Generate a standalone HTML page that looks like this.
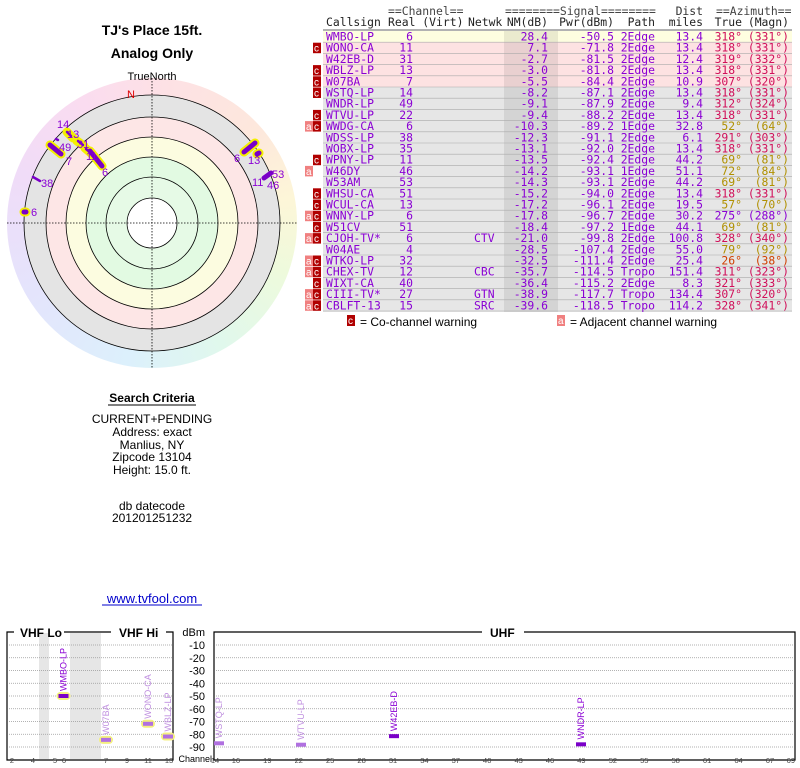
<!DOCTYPE html>
<html><head><meta charset="utf-8"><style>
html,body{margin:0;padding:0;background:#fff;width:800px;height:768px;overflow:hidden}
svg{display:block}
.m{font-family:"DejaVu Sans Mono","Liberation Mono",monospace;font-size:11.4px;fill:#8a00d4}
.s{font-family:"Liberation Sans",sans-serif}
</style></head><body>
<div style="position:absolute;left:7px;top:78px;width:290px;height:290px;border-radius:50%;background:conic-gradient(#fde0e6 0deg,#fde8dc 50deg,#fdf6d8 80deg,#eefadc 110deg,#e0f8ec 150deg,#dcf0fc 190deg,#e4e4fc 240deg,#f0dcf8 290deg,#fadcf0 330deg,#fde0e6 360deg)"></div>
<svg width="800" height="768" style="position:absolute;left:0;top:0">
<text x="152" y="35" class="s" font-size="14" font-weight="bold" text-anchor="middle">TJ's Place 15ft.</text>
<text x="152" y="58" class="s" font-size="14" font-weight="bold" text-anchor="middle">Analog Only</text>
<text x="152" y="80" class="s" font-size="11" text-anchor="middle">TrueNorth</text>
<g fill="none" stroke="#000" stroke-width="0.8">
<circle cx="152" cy="223" r="128" fill="#e4e4e4"/>
<circle cx="152" cy="223" r="106" fill="#fde6e6"/>
<circle cx="152" cy="223" r="86" fill="#fcfce0"/>
<circle cx="152" cy="223" r="66" fill="#e2fae2"/>
<circle cx="152" cy="223" r="46" fill="#e6fae6"/>
<circle cx="152" cy="223" r="25" fill="#fff"/>
</g>
<g stroke="#000" stroke-width="0.8" stroke-dasharray="1.5,1.5">
<line x1="7" y1="223" x2="297" y2="223"/><line x1="152" y1="78" x2="152" y2="368"/>
</g>
<text x="127" y="98" fill="#d00" class="s" font-size="11">N</text>
<g stroke-linecap="round">
<g stroke="#f4f000" stroke-width="9">
<line x1="50" y1="145" x2="61" y2="154"/><line x1="90" y1="151" x2="102" y2="166"/>
<line x1="244" y1="152" x2="255" y2="143"/><line x1="257" y1="154" x2="259" y2="153"/>
<line x1="24" y1="212" x2="26" y2="212"/><line x1="67" y1="132" x2="73" y2="138"/>
<line x1="77" y1="141" x2="84" y2="146"/><line x1="85" y1="148" x2="92" y2="154"/>
</g>
<g stroke="#7a00c8" stroke-width="5">
<line x1="50" y1="145" x2="61" y2="154"/><line x1="90" y1="151" x2="102" y2="166"/>
<line x1="244" y1="152" x2="255" y2="143"/><line x1="257" y1="154" x2="259" y2="153"/>
<line x1="24" y1="212" x2="26" y2="212"/><line x1="264" y1="178" x2="271" y2="173"/>
</g>
<g stroke="#7a00c8" stroke-width="2.5">
<line x1="33" y1="177" x2="40" y2="181"/><line x1="56" y1="139" x2="58" y2="140"/>
<line x1="67" y1="132" x2="71" y2="136"/><line x1="78" y1="141" x2="83" y2="145"/><line x1="86" y1="149" x2="91" y2="153"/>
</g>
</g>
<g class="s" font-size="11" fill="#8a00d4">
<text x="57" y="128">14</text><text x="67" y="138">13</text><text x="59" y="151">49</text><text x="77" y="148">31</text>
<text x="86" y="160">11</text><text x="66" y="165">7</text><text x="102" y="176">6</text><text x="41" y="187">38</text>
<text x="31" y="216">6</text><text x="234" y="162">6</text><text x="248" y="164">13</text>
<text x="272" y="178">53</text><text x="252" y="186">11</text><text x="267" y="189">46</text>
</g>
<g class="s" font-size="12" text-anchor="middle" fill="#000">
<text x="152" y="402" font-weight="bold">Search Criteria</text>
<line x1="108" y1="405" x2="196" y2="405" stroke="#000"/>
<text x="152" y="423">CURRENT+PENDING</text><text x="152" y="436">Address: exact</text>
<text x="152" y="449">Manlius, NY</text><text x="152" y="461">Zipcode 13104</text>
<text x="152" y="474">Height: 15.0 ft.</text>
<text x="152" y="510">db datecode</text><text x="152" y="522">201201251232</text>
<text x="152" y="603" fill="#00c" font-size="13">www.tvfool.com</text>
<line x1="102" y1="605" x2="202" y2="605" stroke="#00c"/>
</g>
<rect x="323" y="31" width="469" height="11" fill="#fefee0"/>
<rect x="323" y="42.2" width="469" height="44.8" fill="#fde2e2"/>
<rect x="323" y="87" width="469" height="225" fill="#e6e6e6"/>
<rect x="504" y="31" width="54" height="281" fill="#000" opacity="0.08"/>
<g stroke="#aaa" stroke-width="0.6" id="rl"></g>
<line x1="323" y1="30" x2="792" y2="30" stroke="#666"/>
<g class="m">
<text x="388" y="15" style="fill:#444">==Channel==</text>
<text x="505" y="15" style="fill:#444">========Signal========</text>
<text x="703" y="15" text-anchor="end" style="fill:#333">Dist</text>
<text x="716" y="15" style="fill:#444">==Azimuth==</text>
<text x="326" y="26" style="fill:#222">Callsign</text><text x="388" y="26" style="fill:#222">Real (Virt)</text>
<text x="468" y="26" style="fill:#222">Netwk</text><text x="548" y="26" text-anchor="end" style="fill:#222">NM(dB)</text>
<text x="614" y="26" text-anchor="end" style="fill:#222">Pwr(dBm)</text><text x="655" y="26" text-anchor="end" style="fill:#222">Path</text>
<text x="703" y="26" text-anchor="end" style="fill:#222">miles</text><text x="742" y="26" text-anchor="end" style="fill:#222">True</text>
<text x="789" y="26" text-anchor="end" style="fill:#222">(Magn)</text>
</g>
<g id="rows"></g>
<g class="s" font-size="12">
<rect x="347" y="315" width="8" height="11" fill="#b00000"/><text x="348" y="324" fill="#fff" font-size="10">c</text>
<text x="360" y="326">= Co-channel warning</text>
<rect x="557" y="315" width="8" height="11" fill="#f08080"/><text x="558" y="324" fill="#fff" font-size="10">a</text>
<text x="570" y="326">= Adjacent channel warning</text>
</g>
<rect x="39" y="633" width="10" height="126" fill="#e6e6e6"/>
<rect x="70" y="633" width="31" height="126" fill="#e6e6e6"/>
<g id="grid" stroke="#999" stroke-width="0.8" stroke-dasharray="1,1"></g>
<g stroke="#000" stroke-width="1.2" fill="none">
<polyline points="14,632 7,632 7,760 173,760 173,632 166,632"/>
<line x1="64" y1="632" x2="111" y2="632"/>
<polyline points="482,632 214,632 214,760 795,760 795,632 524,632"/>
</g>
<g class="s" font-weight="bold" font-size="12">
<text x="20" y="637">VHF Lo</text><text x="119" y="637">VHF Hi</text><text x="490" y="637">UHF</text>
</g>
<g class="s" font-size="11" text-anchor="end" id="db"></g>
<text x="212" y="762" class="s" font-size="9" text-anchor="end">Channel</text>
<g class="s" font-size="7.5" fill="#444" text-anchor="middle" id="tk"></g>
<g id="mk"></g>
</svg>
<script>
var NS="http://www.w3.org/2000/svg";
function el(p,t,a,tx){var e=document.createElementNS(NS,t);for(var k in a)e.setAttribute(k,a[k]);if(tx!=null)e.textContent=tx;document.getElementById(p).appendChild(e);return e;}
var R=[["WMBO-LP","6","","28.4","-50.5","2Edge","13.4","318","331","","p"],
["WONO-CA","11","","7.1","-71.8","2Edge","13.4","318","331","c","p"],
["W42EB-D","31","","-2.7","-81.5","2Edge","12.4","319","332","","p"],
["WBLZ-LP","13","","-3.0","-81.8","2Edge","13.4","318","331","c","p"],
["W07BA","7","","-5.5","-84.4","2Edge","10.9","307","320","c","p"],
["WSTQ-LP","14","","-8.2","-87.1","2Edge","13.4","318","331","c","p"],
["WNDR-LP","49","","-9.1","-87.9","2Edge","9.4","312","324","","p"],
["WTVU-LP","22","","-9.4","-88.2","2Edge","13.4","318","331","c","p"],
["WWDG-CA","6","","-10.3","-89.2","1Edge","32.8","52","64","ac","o"],
["WDSS-LP","38","","-12.3","-91.1","2Edge","6.1","291","303","","p"],
["WOBX-LP","35","","-13.1","-92.0","2Edge","13.4","318","331","","p"],
["WPNY-LP","11","","-13.5","-92.4","2Edge","44.2","69","81","c","o"],
["W46DY","46","","-14.2","-93.1","1Edge","51.1","72","84","a","o"],
["W53AM","53","","-14.3","-93.1","2Edge","44.2","69","81","","o"],
["WHSU-CA","51","","-15.2","-94.0","2Edge","13.4","318","331","c","p"],
["WCUL-CA","13","","-17.2","-96.1","2Edge","19.5","57","70","c","o"],
["WNNY-LP","6","","-17.8","-96.7","2Edge","30.2","275","288","ac","v"],
["W51CV","51","","-18.4","-97.2","1Edge","44.1","69","81","c","o"],
["CJOH-TV*","6","CTV","-21.0","-99.8","2Edge","100.8","328","340","ac","p"],
["W04AE","4","","-28.5","-107.4","2Edge","55.0","79","92","","o"],
["WTKO-LP","32","","-32.5","-111.4","2Edge","25.4","26","38","ac","r"],
["CHEX-TV","12","CBC","-35.7","-114.5","Tropo","151.4","311","323","ac","p"],
["WIXT-CA","40","","-36.4","-115.2","2Edge","8.3","321","333","c","p"],
["CIII-TV*","27","GTN","-38.9","-117.7","Tropo","134.4","307","320","ac","p"],
["CBLFT-13","15","SRC","-39.6","-118.5","Tropo","114.2","328","341","ac","p"]];
var col={p:"#d0105a",o:"#b09000",v:"#8a00d4",r:"#d04000"};
R.forEach(function(r,i){var t=31+i*11.2,b=t+9.5;
 el("rl","line",{x1:323,x2:792,y1:t+11.2,y2:t+11.2});
 function T(x,s,a,c){el("rows","text",{x:x,y:b,"text-anchor":a||"start",class:"m",style:c?"fill:"+c:""},s);}
 T(326,r[0]);T(413,r[1],"end");T(474,r[2]);T(548,r[3],"end");T(614,r[4],"end");T(655,r[5],"end");T(703,r[6],"end");
 T(742,r[7]+"°","end",col[r[10]]);T(789,"("+r[8]+"°)","end",col[r[10]]);
 if(r[9].indexOf("c")>=0){el("rows","rect",{x:313,y:t+0.5,width:8,height:10.5,fill:"#b00000"});el("rows","text",{x:314,y:b,fill:"#fff","font-size":10,class:"s"},"c");}
 if(r[9].indexOf("a")>=0){el("rows","rect",{x:305,y:t+0.5,width:8,height:10.5,fill:"#f08080"});el("rows","text",{x:306,y:b,fill:"#fff","font-size":10,class:"s"},"a");}
});
for(var k=1;k<=9;k++){var y=645+(k-1)*12.75;
 el("grid","line",{x1:9,x2:172,y1:y,y2:y});el("grid","line",{x1:216,x2:794,y1:y,y2:y});
 el("db","text",{x:205,y:y+4},"-"+(k*10));}
el("db","text",{x:205,y:636},"dBm");
var vt=[[12,"2"],[33,"4"],[55,"5"],[64,"6"],[106,"7"],[127,"9"],[148,"11"],[169,"13"]];
vt.forEach(function(v){el("tk","text",{x:v[0],y:763},v[1]);});
[14,16,19,22,25,28,31,34,37,40,43,46,49,52,55,58,61,64,67,69].forEach(function(c){el("tk","text",{x:215+(c-14)*10.47,y:763},c);});
function Y(d){return 645+(-d-10)*1.275;}
var M=[[63.5,-50,"WMBO-LP","#7a00c8",1,"#8a00d4"],[106,-84.4,"W07BA","#b070e0",1,"#c090e0"],[148,-71.8,"WONO-CA","#b070e0",1,"#c090e0"],[168,-81.8,"WBLZ-LP","#b070e0",1,"#c090e0"],
[219,-87.1,"WSTQ-LP","#b070e0",0,"#c090e0"],[301,-88.2,"WTVU-LP","#b070e0",0,"#c090e0"],[394,-81.5,"W42EB-D","#7a00c8",0,"#8a00d4"],[581,-87.9,"WNDR-LP","#7a00c8",0,"#8a00d4"]];
M.forEach(function(m){var y=Y(m[1]);
 if(m[4])el("mk","rect",{x:m[0]-7,y:y-4,width:14,height:8,rx:4,fill:"#f4f080"});
 el("mk","rect",{x:m[0]-5,y:y-2,width:10,height:4,fill:m[3]});
 el("mk","text",{x:0,y:0,transform:"translate("+(m[0]+3)+","+(y-5)+") rotate(-90)",class:"s","font-size":9,fill:m[5]},m[2]);
});
</script>
</body></html>
